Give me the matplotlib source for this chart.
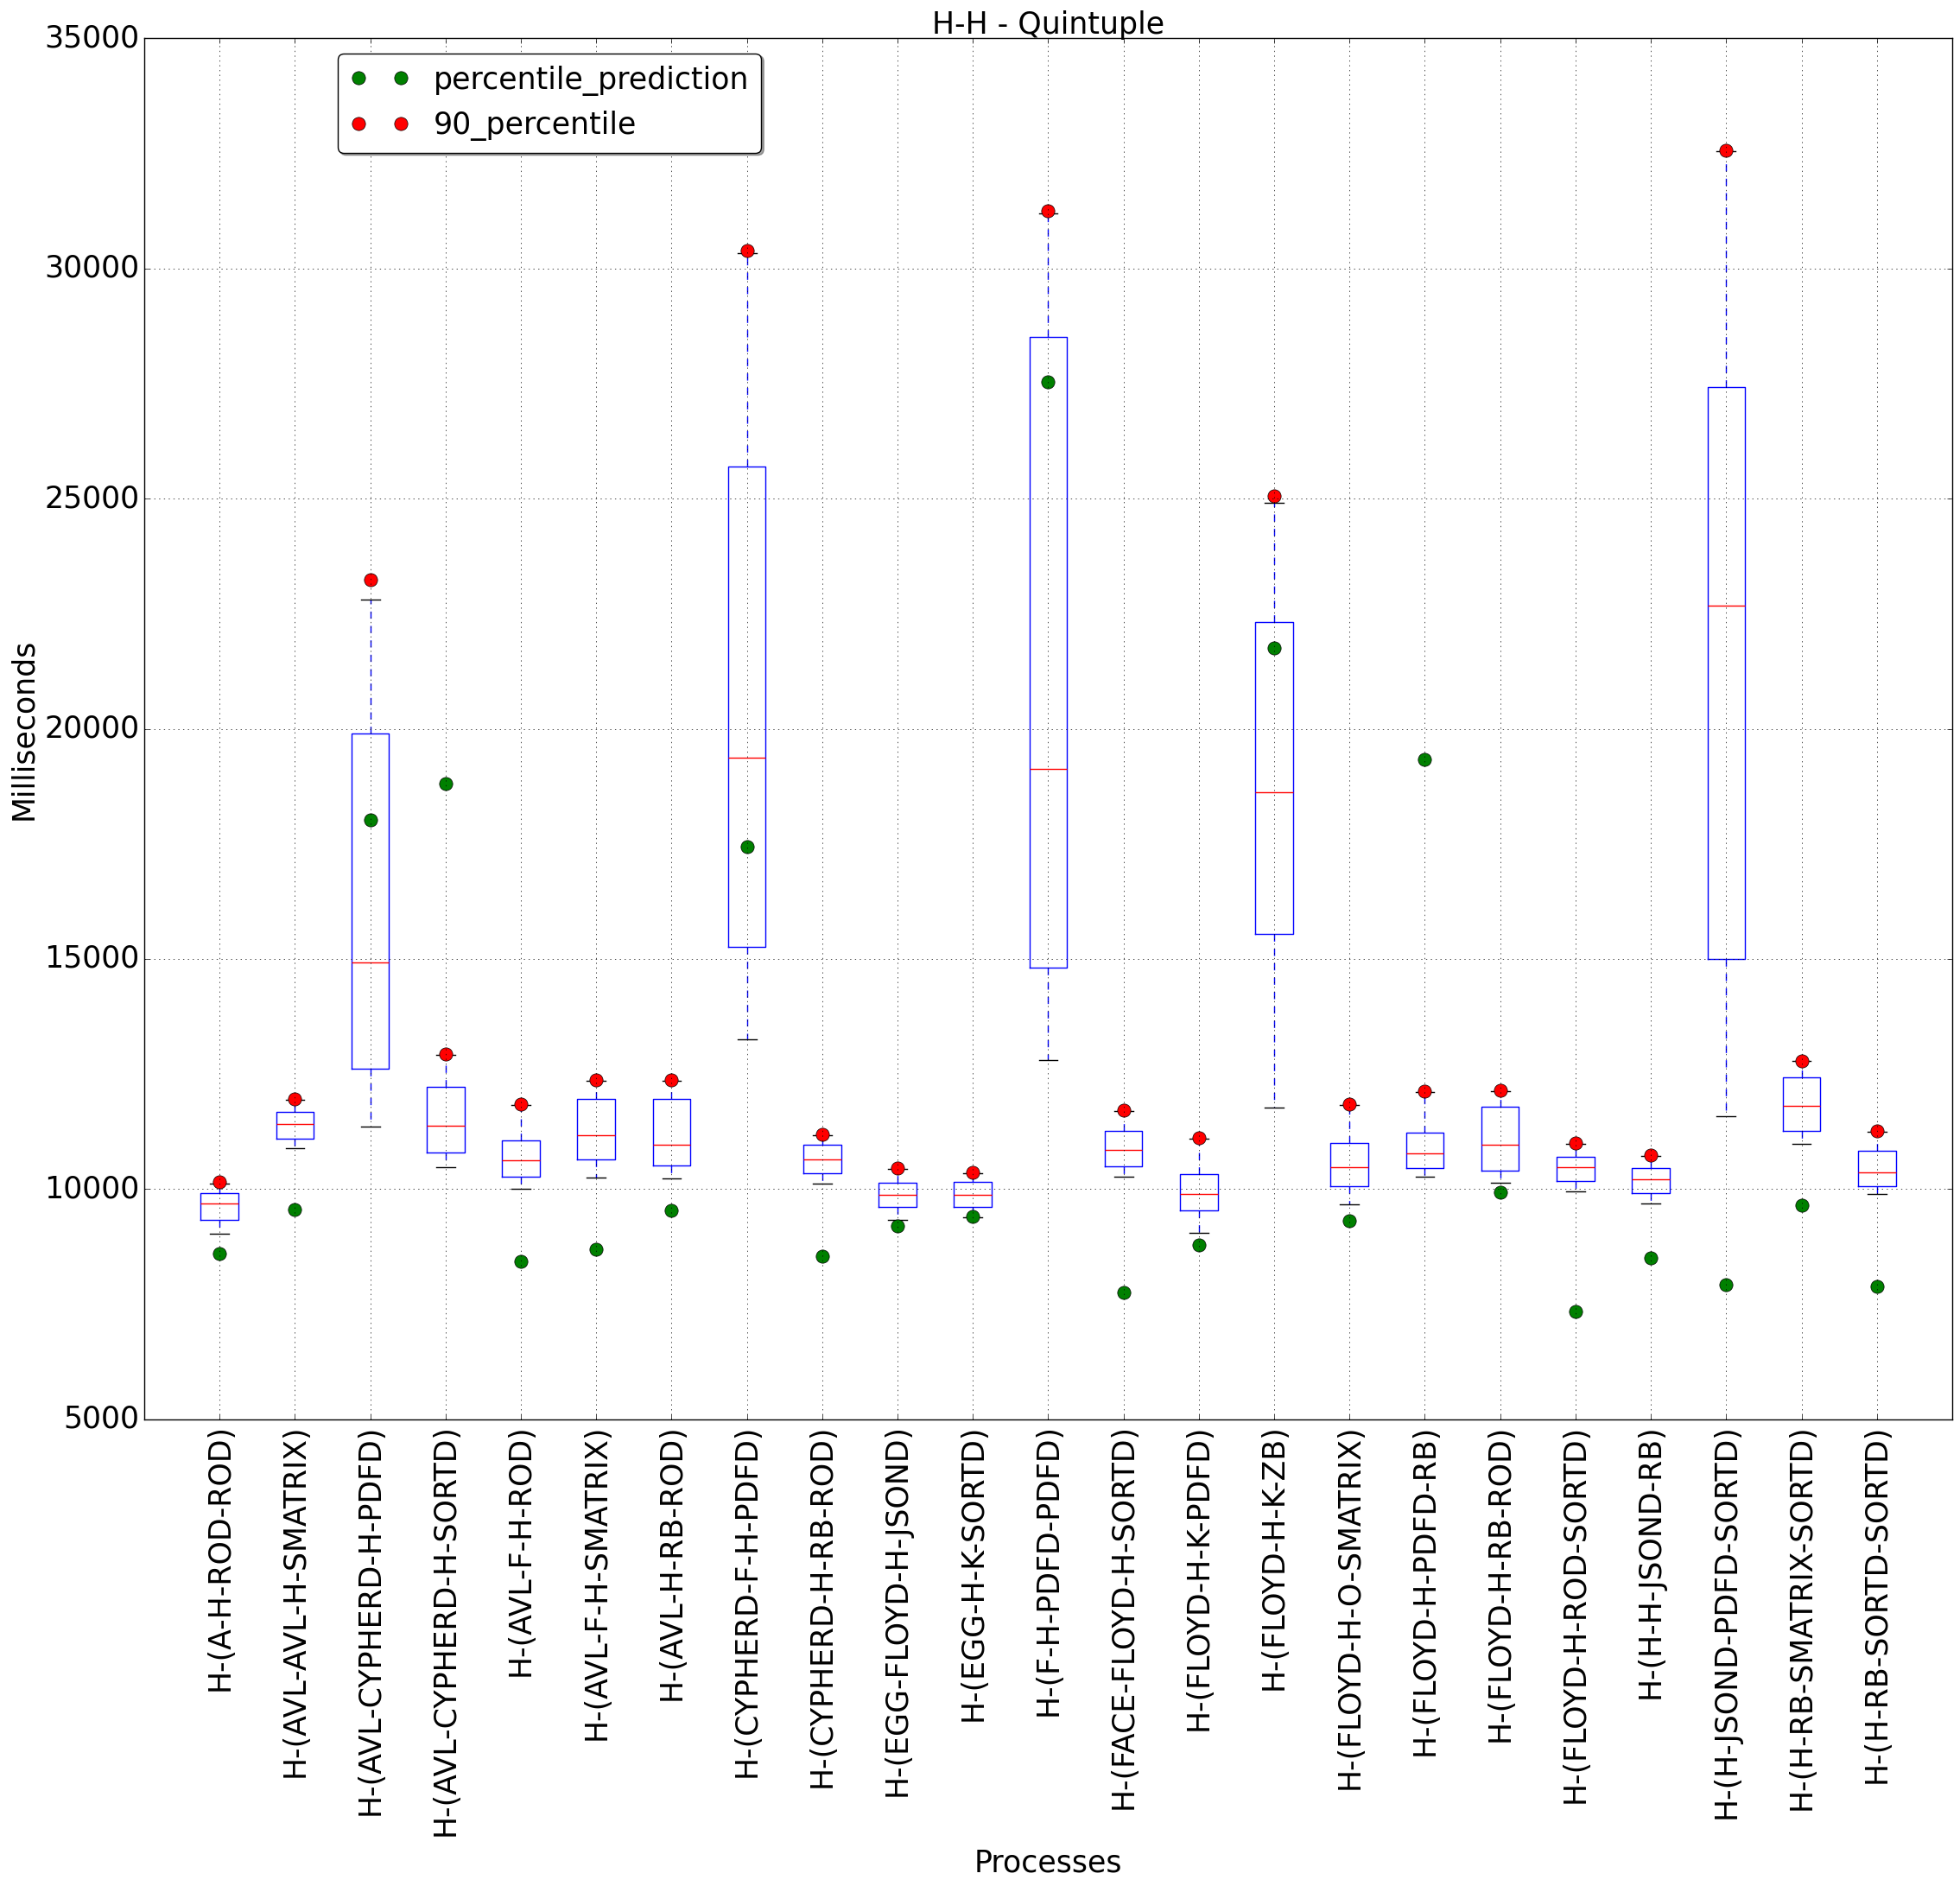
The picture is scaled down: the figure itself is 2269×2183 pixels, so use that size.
import matplotlib
matplotlib.use('Agg')
import matplotlib.pyplot as plt

plt.style.use('classic')

# Process names (x axis)
processes = [
    'H-(A-H-ROD-ROD)', 'H-(AVL-AVL-H-SMATRIX)', 'H-(AVL-CYPHERD-H-PDFD)',
    'H-(AVL-CYPHERD-H-SORTD)', 'H-(AVL-F-H-ROD)', 'H-(AVL-F-H-SMATRIX)',
    'H-(AVL-H-RB-ROD)', 'H-(CYPHERD-F-H-PDFD)', 'H-(CYPHERD-H-RB-ROD)',
    'H-(EGG-FLOYD-H-JSOND)', 'H-(EGG-H-K-SORTD)', 'H-(F-H-PDFD-PDFD)',
    'H-(FACE-FLOYD-H-SORTD)', 'H-(FLOYD-H-K-PDFD)', 'H-(FLOYD-H-K-ZB)',
    'H-(FLOYD-H-O-SMATRIX)', 'H-(FLOYD-H-PDFD-RB)', 'H-(FLOYD-H-RB-ROD)',
    'H-(FLOYD-H-ROD-SORTD)', 'H-(H-H-JSOND-RB)', 'H-(H-JSOND-PDFD-SORTD)',
    'H-(H-RB-SMATRIX-SORTD)', 'H-(H-RB-SORTD-SORTD)',
]

# box statistics (milliseconds)
whislo = [9028, 10885, 11355, 10473, 10004, 10248, 10235, 13250, 10116, 9328, 9390, 12805,
          10266, 9050, 11771, 9674, 10263, 10148, 9960, 9693, 11589, 10976, 9904]
q1 = [9328, 11092, 12612, 10792, 10266, 10642, 10510, 15253, 10341, 9615, 9615, 14818,
      10497, 9533, 15546, 10062, 10463, 10407, 10177, 9923, 14996, 11263, 10057]
med = [9685, 11411, 14925, 11373, 10623, 11167, 10960, 19371, 10642, 9872, 9872, 19122,
       10854, 9890, 18619, 10478, 10781, 10966, 10478, 10210, 22674, 11818, 10364]
q3 = [9910, 11673, 19893, 12217, 11054, 11955, 11955, 25704, 10960, 10135, 10154, 28507,
      11261, 10336, 22325, 10994, 11225, 11784, 10707, 10460, 27420, 12430, 10843]
whishi = [10130, 11940, 22797, 12910, 11820, 12350, 12350, 30323, 11170, 10440, 10350, 31191,
          11700, 11100, 24908, 11820, 12110, 12130, 10980, 10730, 32550, 12780, 11250]

# points
percentile_prediction = [8602, 9553, 18021, 18809, 8428, 8691, 9540, 17437, 8546, 9197, 9403, 27533,
                         7752, 8784, 21764, 9315, 19338, 9932, 7349, 8506, 7933, 9655, 7893]
percentile_90 = [10154, 11961, 23231, 12931, 11842, 12368, 12368, 30388, 11186, 10454, 10366, 31257,
                 11717, 11114, 25053, 11842, 12130, 12144, 10994, 10747, 32570, 12794, 11263]

positions = list(range(1, len(processes) + 1))

stats = []
for i in range(len(processes)):
    stats.append({'whislo': whislo[i], 'q1': q1[i], 'med': med[i], 'q3': q3[i],
                  'whishi': whishi[i], 'fliers': []})

fs = 25
fig = plt.figure(figsize=(22.69, 21.83), facecolor='white')
ax = fig.add_subplot(111)
fig.subplots_adjust(left=0.0736, right=0.996, top=0.9798, bottom=0.2474)

ax.bxp(stats, positions=positions, widths=0.5, showfliers=False)

ax.plot(positions, percentile_prediction, 'o', color='g', markersize=11,
        label='percentile_prediction')
ax.plot(positions, percentile_90, 'o', color='r', markersize=11,
        label='90_percentile')

ax.set_xlim(0, len(processes) + 1)
ax.set_ylim(5000, 35000)
ax.set_xticks(positions)
ax.set_xticklabels(processes, rotation=90, fontsize=fs)
ax.set_yticks(range(5000, 35001, 5000))
ax.tick_params(axis='y', labelsize=fs)
ax.grid(True)

ax.set_title('H-H - Quintuple', fontsize=fs, pad=4)
ax.set_xlabel('Processes', fontsize=fs, labelpad=10)
ax.set_ylabel('Milliseconds', fontsize=fs)

ax.legend(loc='upper left', bbox_to_anchor=(0.107, 0.989), borderaxespad=0,
          numpoints=2, shadow=True, fancybox=True, fontsize=fs)

fig.savefig('out.png', dpi=100, facecolor='white')
